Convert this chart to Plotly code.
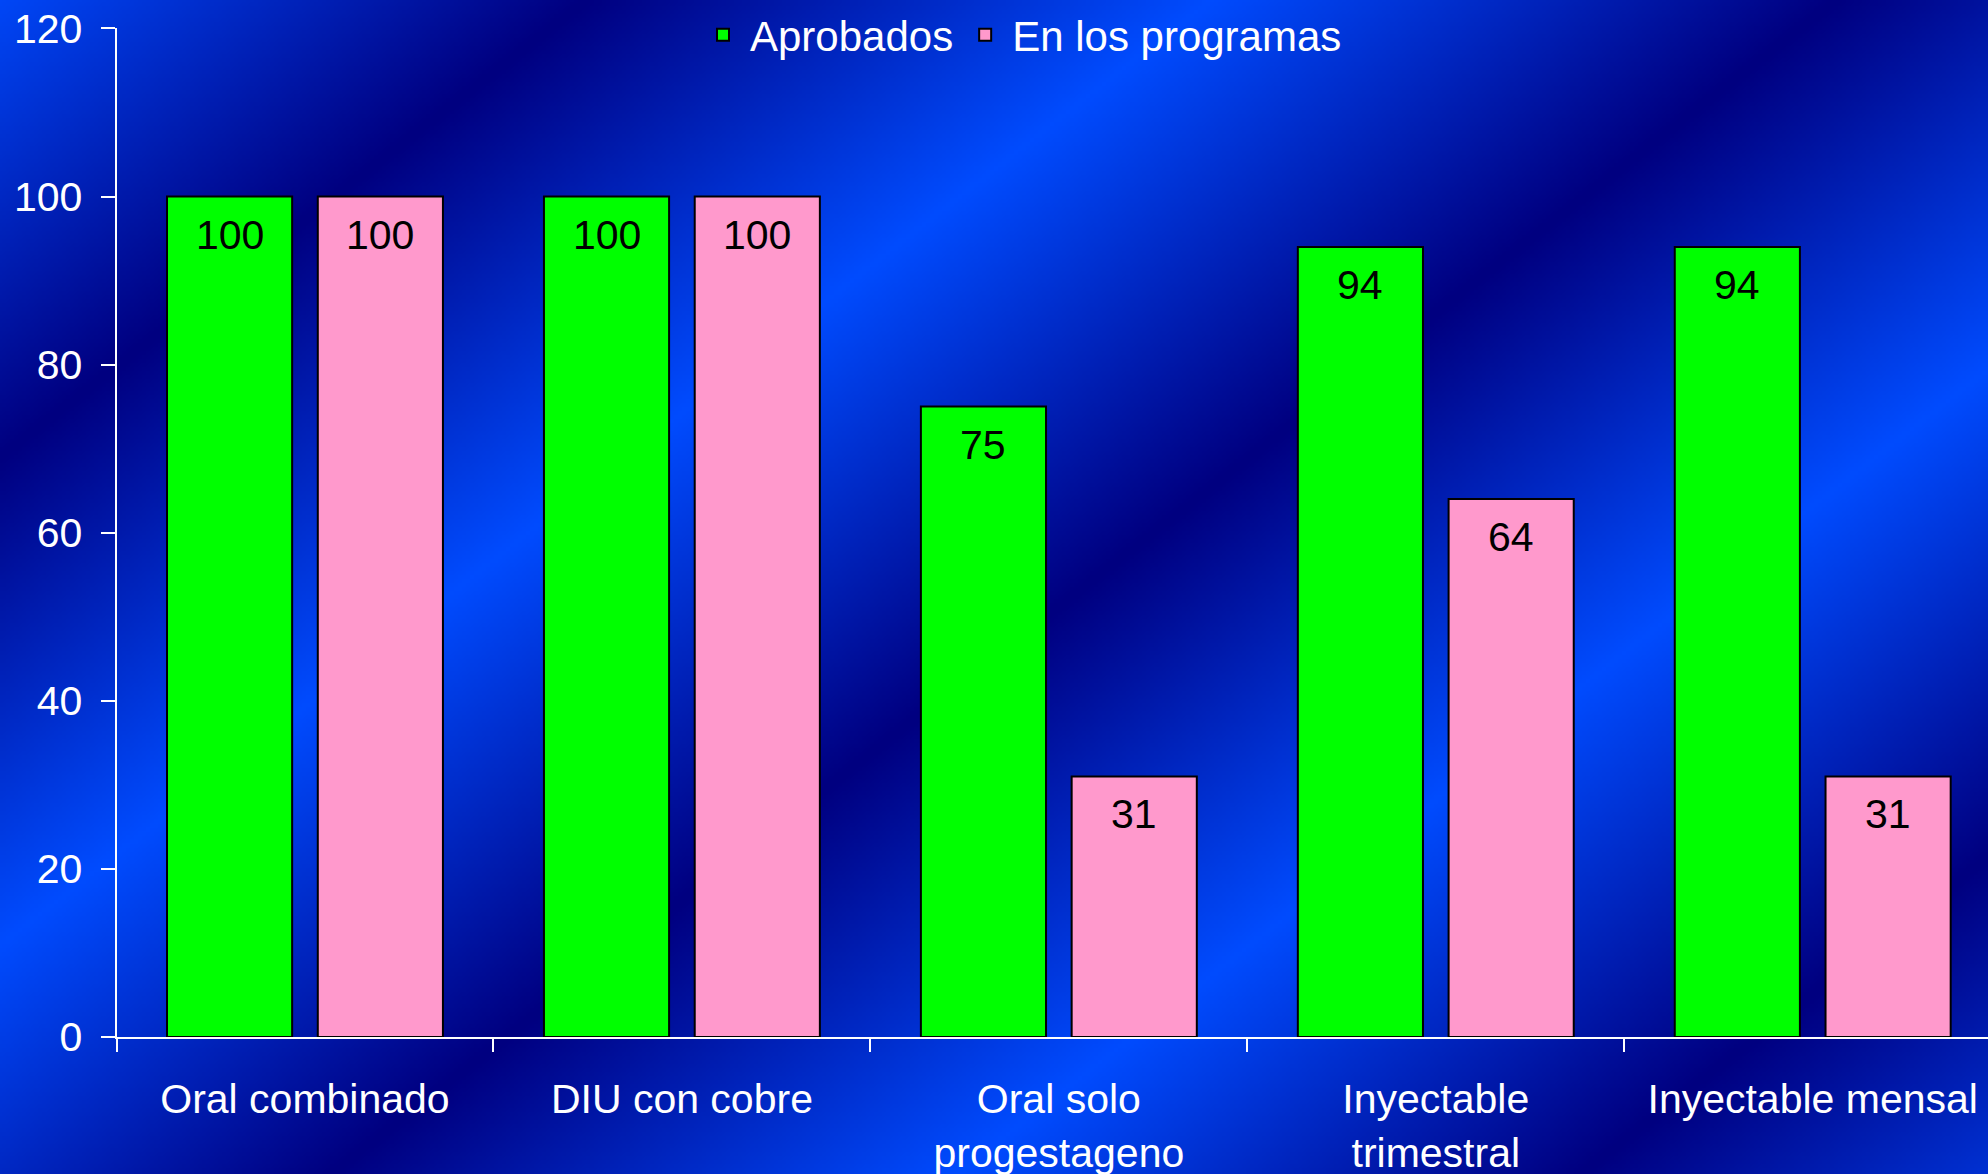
import base64, struct, zlib
import numpy as np
import plotly.graph_objects as go

# ---------------- data ----------------
categories = ["Oral combinado", "DIU con cobre", "Oral solo<br>progestageno",
              "Inyectable<br>trimestral", "Inyectable mensal"]
aprobados = [100, 100, 75, 94, 94]
en_programas = [100, 100, 31, 64, 31]
y_ticks = [0, 20, 40, 60, 80, 100, 120]

W, H = 1988, 1174

# ---------------- background (diagonal banded blue gradient) ----------------
def make_bg():
    w, h = W // 4, H // 4
    xs = (np.arange(w) + 0.5) * (W / w)
    ys = (np.arange(h) + 0.5) * (H / h)
    X, Y = np.meshgrid(xs, ys)
    u = 0.78 * X + Y
    period = 975.0
    phase = ((u + 30.0) / period) % 1.0
    t = np.abs(1 - 2 * phase)          # 1 at bright, 0 at dark
    dark = np.array([0, 0, 128], float)
    bright = np.array([0, 76, 255], float)
    img = dark[None, None, :] + t[..., None] * (bright - dark)[None, None, :]
    img = np.clip(img, 0, 255).astype(np.uint8)
    raw = b"".join(b"\x00" + img[r].tobytes() for r in range(h))

    def chunk(tag, data):
        return (struct.pack(">I", len(data)) + tag + data +
                struct.pack(">I", zlib.crc32(tag + data) & 0xFFFFFFFF))
    png = (b"\x89PNG\r\n\x1a\n" +
           chunk(b"IHDR", struct.pack(">IIBBBBB", w, h, 8, 2, 0, 0, 0)) +
           chunk(b"IDAT", zlib.compress(raw, 9)) +
           chunk(b"IEND", b""))
    return "data:image/png;base64," + base64.b64encode(png).decode()

FONT = "Liberation Sans, Arial, sans-serif"
FS = 41

fig = go.Figure()
fig.add_trace(go.Bar(
    name="Aprobados", x=categories, y=aprobados,
    marker=dict(color="#00ff00", line=dict(color="black", width=2)),
))
fig.add_trace(go.Bar(
    name="En los programas", x=categories, y=en_programas,
    marker=dict(color="#ff99cc", line=dict(color="black", width=2)),
))

# value labels inside top of each bar
bargap, bargroupgap = 0.2, 0.17
offset = (1 - bargap) / 4
annotations = []
for series, dx in ((aprobados, -offset), (en_programas, offset)):
    for i, v in enumerate(series):
        annotations.append(dict(
            x=i + dx, y=v, xref="x", yref="y", text=str(v), showarrow=False,
            yanchor="top", yshift=-13,
            font=dict(family=FONT, size=FS, color="black")))

x0 = 116.5 / W
y_bot = (H - 1037) / H
y_top = (H - 28.4) / H

fig.update_layout(
    width=W, height=H,
    margin=dict(l=0, r=0, t=0, b=0),
    paper_bgcolor="#000080",
    plot_bgcolor="rgba(0,0,0,0)",
    barmode="group", bargap=bargap, bargroupgap=bargroupgap,
    font=dict(family=FONT, size=FS, color="white"),
    showlegend=True,
    legend=dict(orientation="h", x=696 / W, xanchor="left",
                y=1 - 35 / H, yanchor="middle", itemwidth=44,
                bgcolor="rgba(0,0,0,0)", font=dict(size=42, color="white")),
    annotations=annotations,
    images=[dict(source=make_bg(), xref="paper", yref="paper", x=0, y=1,
                 sizex=1, sizey=1, sizing="stretch", layer="below",
                 xanchor="left", yanchor="top")],
    xaxis=dict(domain=[x0, 1], range=[-0.5, 4.465], showline=True,
               linecolor="white", linewidth=2, ticks="outside",
               tickson="boundaries", ticklen=13, tickcolor="white",
               tickwidth=2, showgrid=False, zeroline=False,
               tickfont=dict(size=FS, color="white"), automargin=False,
               ticklabelstandoff=25),
    yaxis=dict(domain=[y_bot, y_top], range=[0, 120], tickvals=y_ticks,
               showline=True, linecolor="white", linewidth=2,
               ticks="outside", ticklen=14, tickcolor="white", tickwidth=2,
               showgrid=False, zeroline=False, ticklabelstandoff=10,
               tickfont=dict(size=FS, color="white"), automargin=False),
)

fig.write_html("out.html", config={"displayModeBar": False},
               post_script="document.body.style.margin='0';"
                           "document.body.style.overflow='hidden';")
